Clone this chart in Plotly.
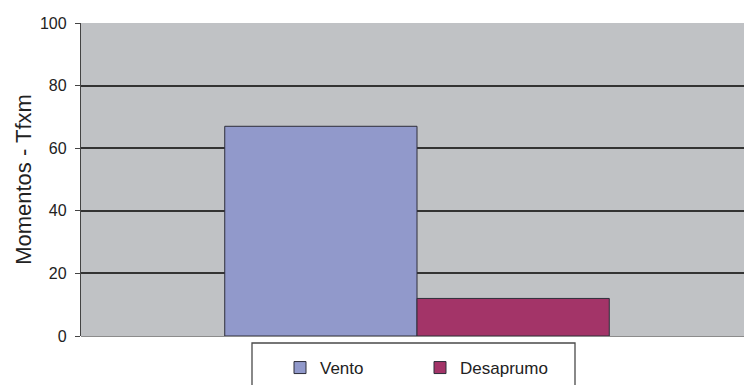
import plotly.graph_objects as go

# Bending moments (Tf x m) by load case
categories = ["Momentos"]
series_names = ["Vento", "Desaprumo"]
vento = [67]
desaprumo = [12]
y_ticks = [0, 20, 40, 60, 80, 100]

colors = {"Vento": "#9199cb", "Desaprumo": "#a33468"}

fig = go.Figure()
for name, vals in zip(series_names, [vento, desaprumo]):
    fig.add_trace(go.Bar(
        name=name,
        x=categories,
        y=vals,
        marker=dict(color=colors[name], line=dict(color="#2e2e3a", width=1)),
    ))

# Plot area spans 81..744 px horizontally, 23..336 px vertically
L, R, T, B = 81, 0, 23, 49
W, H = 744, 385
pw, ph = W - L - R, H - T - B

def px_x(px):
    return (px - L) / pw

def px_y(py):
    return (H - B - py) / ph

# Legend frame
fig.add_shape(type="rect", xref="paper", yref="paper",
              x0=px_x(252), x1=px_x(575), y0=px_y(343), y1=px_y(400),
              line=dict(color="#4a4a4a", width=1.3), fillcolor="white", layer="below")

fig.update_layout(
    width=W, height=H,
    margin=dict(l=L, r=R, t=T, b=B, autoexpand=False),
    paper_bgcolor="white",
    plot_bgcolor="#c0c2c5",
    barmode="group",
    bargap=0.42,
    bargroupgap=0,
    font=dict(family="Liberation Sans, Arial, sans-serif", color="#222222"),
    showlegend=True,
    legend=dict(
        orientation="h",
        x=px_x(280), xanchor="left",
        y=px_y(350), yanchor="top",
        bgcolor="rgba(0,0,0,0)",
        borderwidth=0,
        font=dict(size=17, color="#222222"),
        itemwidth=30,
        entrywidth=95,
        itemclick=False,
    ),
    xaxis=dict(
        range=[-0.5068, 0.4932],
        showticklabels=False,
        showgrid=False,
        ticks="",
        showline=False,
        zeroline=False,
    ),
    yaxis=dict(
        range=[0, 100],
        tickvals=y_ticks,
        ticktext=[str(v) for v in y_ticks],
        tickfont=dict(size=16, color="#222222"),
        ticks="outside",
        ticklen=5,
        tickcolor="#444444",
        ticklabelstandoff=5,
        showline=True,
        linecolor="#444444",
        linewidth=1.3,
        showgrid=True,
        gridcolor="#333333",
        gridwidth=1.5,
        zeroline=True,
        zerolinecolor="#8c8c8c",
        zerolinewidth=1.3,
        title=dict(text="Momentos - Tfxm", font=dict(size=22, color="#222222"), standoff=2),
        automargin=False,
    ),
)

fig.write_html("out.html")
